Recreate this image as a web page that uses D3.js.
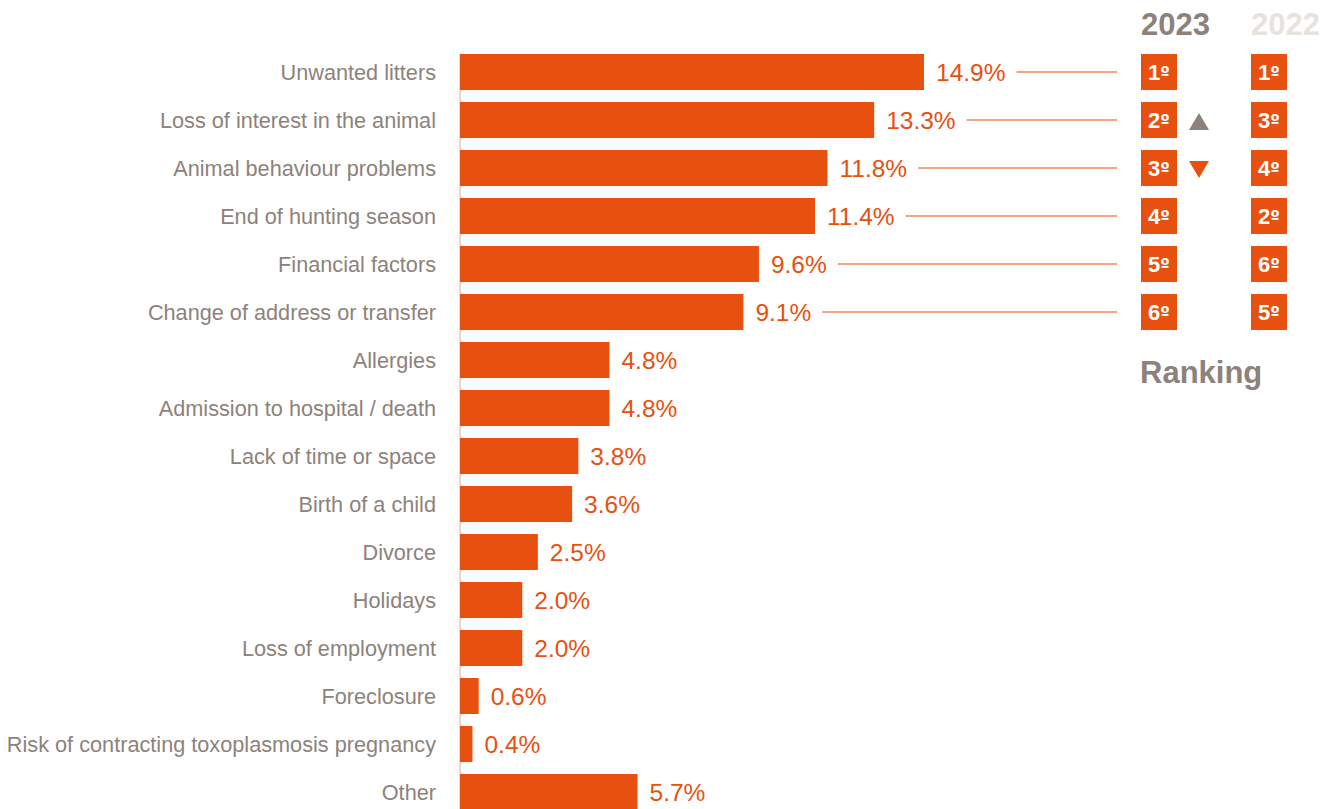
<!DOCTYPE html>
<html>
<head>
<meta charset="utf-8">
<script src="https://cdn.jsdelivr.net/npm/d3@7/dist/d3.min.js"></script>
<style>
  html, body { margin: 0; padding: 0; background: #fff; }
  svg { display: block; font-family: "Liberation Sans", Arial, Helvetica, sans-serif; }
</style>
</head>
<body>
<svg id="chart" width="1336" height="809"></svg>
<script>
// Reasons for abandonment, share of cases (%)
const categories = [
  "Unwanted litters",
  "Loss of interest in the animal",
  "Animal behaviour problems",
  "End of hunting season",
  "Financial factors",
  "Change of address or transfer",
  "Allergies",
  "Admission to hospital / death",
  "Lack of time or space",
  "Birth of a child",
  "Divorce",
  "Holidays",
  "Loss of employment",
  "Foreclosure",
  "Risk of contracting toxoplasmosis pregnancy",
  "Other"
];
const values = [14.9, 13.3, 11.8, 11.4, 9.6, 9.1, 4.8, 4.8, 3.8, 3.6, 2.5, 2.0, 2.0, 0.6, 0.4, 5.7];

// Ranking of the top six reasons
const rank2023 = [1, 2, 3, 4, 5, 6];
const rank2022 = [1, 3, 4, 2, 6, 5];
const arrows = [null, "up", "down", null, null, null];
const yearLabels = ["2023", "2022"];
const rankingTitle = "Ranking";

const ORANGE = "#e8500f";
const LINE = "#ee8458";
const GREY = "#8d827b";
const PALE = "#e7e2dd";

const svg = d3.select("#chart");

const x = d3.scaleLinear().domain([0, 14.9]).range([460, 924]);
const y = d3.scaleBand()
  .domain(categories)
  .range([48, 816])
  .paddingInner(0.25)
  .paddingOuter(0.125);

// faint baseline
svg.append("line")
  .attr("x1", x(0)).attr("x2", x(0))
  .attr("y1", y(categories[0])).attr("y2", 809)
  .attr("stroke", "#f4c6b2").attr("stroke-width", 1.5);

// bars
svg.append("g").selectAll("rect")
  .data(categories)
  .join("rect")
  .attr("x", x(0))
  .attr("y", d => y(d))
  .attr("width", (d, i) => x(values[i]) - x(0))
  .attr("height", y.bandwidth())
  .attr("fill", ORANGE);

// category labels
svg.append("g").selectAll("text")
  .data(categories)
  .join("text")
  .attr("x", 436)
  .attr("y", d => y(d) + y.bandwidth() / 2)
  .attr("dy", "0.36em")
  .attr("text-anchor", "end")
  .attr("font-size", 21.7)
  .attr("fill", GREY)
  .text(d => d);

// value labels
const valueLabels = svg.append("g").selectAll("text")
  .data(categories)
  .join("text")
  .attr("x", (d, i) => x(values[i]) + 12)
  .attr("y", d => y(d) + y.bandwidth() / 2)
  .attr("dy", "0.36em")
  .attr("font-size", 24.5)
  .attr("fill", ORANGE)
  .text((d, i) => values[i].toFixed(1) + "%");

// leader lines from the top six labels to the ranking column
const colX = [1141, 1251];
const boxSize = 36;
valueLabels.each(function(d, i) {
  if (i >= rank2023.length) return;
  const bb = this.getBBox();
  const cy = y(d) + y.bandwidth() / 2;
  svg.append("line")
    .attr("x1", bb.x + bb.width + 11)
    .attr("x2", colX[0] - 24)
    .attr("y1", cy).attr("y2", cy)
    .attr("stroke", LINE).attr("stroke-width", 1.6);
});

// year headers
svg.selectAll(".year")
  .data(yearLabels)
  .join("text")
  .attr("class", "year")
  .attr("x", (d, i) => colX[i])
  .attr("y", 35)
  .attr("font-size", 31)
  .attr("font-weight", "bold")
  .attr("fill", (d, i) => i === 0 ? GREY : PALE)
  .text(d => d);

// ranking boxes
[rank2023, rank2022].forEach((ranks, c) => {
  const g = svg.append("g");
  ranks.forEach((r, i) => {
    const top = y(categories[i]);
    g.append("rect")
      .attr("x", colX[c]).attr("y", top)
      .attr("width", boxSize).attr("height", boxSize)
      .attr("fill", ORANGE);
    const t = g.append("text")
      .attr("x", colX[c] + boxSize / 2)
      .attr("y", top + boxSize / 2)
      .attr("dy", "0.36em")
      .attr("text-anchor", "middle")
      .attr("font-size", 22)
      .attr("font-weight", "bold")
      .attr("fill", "#fff");
    t.append("tspan").text(r);
    t.append("tspan")
      .attr("font-family", "DejaVu Sans")
      .attr("font-size", 17)
      .attr("dy", "-0.05em")
      .text("º");
  });
});

// movement arrows
arrows.forEach((a, i) => {
  if (!a) return;
  const cx = 1199;
  const cy = y(categories[i]) + y.bandwidth() / 2 + 2;
  const up = a === "up";
  const pts = up
    ? [[cx - 10, cy + 8], [cx + 10, cy + 8], [cx, cy - 9]]
    : [[cx - 10, cy - 9], [cx + 10, cy - 9], [cx, cy + 8]];
  svg.append("path")
    .attr("d", d3.line()(pts) + "Z")
    .attr("fill", up ? GREY : ORANGE);
});

svg.append("text")
  .attr("x", 1140)
  .attr("y", 383)
  .attr("font-size", 31)
  .attr("font-weight", "bold")
  .attr("fill", GREY)
  .text(rankingTitle);
</script>
</body>
</html>
